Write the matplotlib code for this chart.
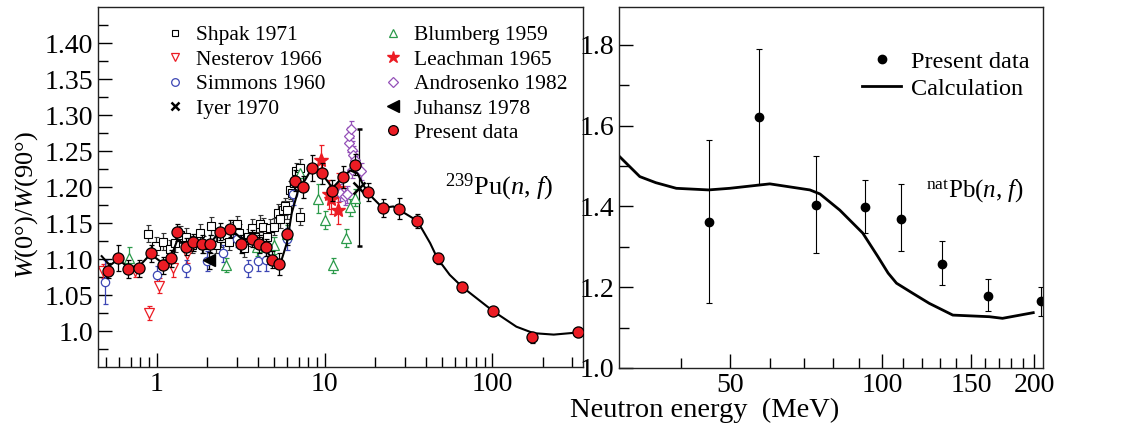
import numpy as np
import matplotlib
matplotlib.use("Agg")
import matplotlib.pyplot as plt
from matplotlib.lines import Line2D
from matplotlib.ticker import FixedLocator, NullFormatter, FixedFormatter

plt.rcParams['font.family'] = ['Liberation Serif', 'DejaVu Serif']
plt.rcParams['mathtext.fontset'] = 'custom'
plt.rcParams['mathtext.rm'] = 'Liberation Serif'
plt.rcParams['mathtext.it'] = 'Liberation Serif:italic'

# ---- left panel: 239Pu(n,f) ----
shpak_E = [0.89, 0.99, 1.09, 1.2, 1.29, 1.38, 1.5, 1.62, 1.8, 1.88, 2.1, 2.26, 2.4, 2.61, 2.7,
           2.85, 3.0, 3.1, 3.31, 3.5, 3.68, 3.85, 4.0, 4.13, 4.32, 4.52, 4.73, 5.0, 5.25, 5.44,
           5.63, 5.82, 6.0, 6.23, 6.38, 6.57, 6.76, 7.1, 7.15]
shpak_W = [1.135, 1.118, 1.124, 1.114, 1.122, 1.134, 1.131, 1.120, 1.136, 1.120, 1.146, 1.120,
           1.129, 1.134, 1.124, 1.140, 1.148, 1.136, 1.115, 1.130, 1.143, 1.131, 1.125, 1.149,
           1.145, 1.131, 1.143, 1.145, 1.164, 1.155, 1.168, 1.173, 1.168, 1.196, 1.192, 1.206,
           1.222, 1.159, 1.227]
shpak_err = 0.012

nest_E = [0.48, 0.74, 0.9, 1.03, 1.25, 1.51]
nest_W = [1.083, 1.083, 1.025, 1.063, 1.087, 1.107]
nest_err = [0.01, 0.008, 0.01, 0.01, 0.012, 0.012]

simm_E = [0.49, 1.0, 1.5, 2.0, 2.5, 3.0, 3.5, 4.0, 4.5, 6.0, 6.5]
simm_W = [1.068, 1.078, 1.087, 1.097, 1.108, 1.128, 1.087, 1.097, 1.098, 1.128, 1.19]
simm_err = [0.03, 0.012, 0.012, 0.014, 0.012, 0.012, 0.012, 0.014, 0.014, 0.015, 0.015]

iyer_E = [16.0]
iyer_W = [1.199]
iyer_err = [0.081]

blum_E = [0.68, 2.6, 3.94, 5.0, 6.0, 7.15, 9.2, 10.1, 11.2, 13.5, 14.2, 15.1]
blum_W = [1.101, 1.092, 1.116, 1.119, 1.135, 1.220, 1.184, 1.154, 1.091, 1.129, 1.172, 1.185]
blum_err = [0.015, 0.01, 0.012, 0.012, 0.012, 0.012, 0.02, 0.012, 0.01, 0.012, 0.012, 0.012]

leach_E = [9.5, 10.6, 11.0, 12.0, 12.0]
leach_W = [1.238, 1.19, 1.183, 1.199, 1.168]
leach_err = [0.02, 0.02, 0.02, 0.02, 0.02]

andr_E = [12.4, 13.2, 13.7, 13.9, 14.0, 14.3, 14.5, 14.5, 14.8, 15.1, 16.6]
andr_W = [1.192, 1.187, 1.19, 1.261, 1.271, 1.28, 1.252, 1.224, 1.245, 1.238, 1.222]
andr_err = 0.012

juh_E = [2.06]
juh_W = [1.098]
juh_err = [0.012]

pres_E = [0.515, 0.59, 0.677, 0.787, 0.92, 1.09, 1.21, 1.33, 1.49, 1.65, 1.85, 2.08, 2.38,
          2.73, 3.17, 3.71, 4.09, 4.46, 4.89, 5.38, 5.96, 6.67, 7.48, 8.45, 9.62, 11.1, 12.9,
          15.1, 18.2, 22.2, 27.8, 35.6, 47.5, 66.3, 100.5, 172, 325]
pres_W = [1.084, 1.102, 1.086, 1.087, 1.108, 1.091, 1.101, 1.137, 1.117, 1.123, 1.121, 1.121,
          1.138, 1.142, 1.121, 1.128, 1.121, 1.116, 1.099, 1.093, 1.135, 1.209, 1.200, 1.227,
          1.219, 1.195, 1.214, 1.231, 1.193, 1.171, 1.170, 1.153, 1.101, 1.061, 1.028, 0.991, 0.998]
pres_err = [0.01, 0.018, 0.012, 0.012, 0.012, 0.012, 0.012, 0.012, 0.012, 0.012, 0.012, 0.012,
            0.012, 0.012, 0.012, 0.012, 0.012, 0.012, 0.012, 0.015, 0.015, 0.015, 0.015, 0.018,
            0.015, 0.015, 0.015, 0.015, 0.012, 0.012, 0.015, 0.01, 0.008, 0.007, 0.006, 0.007, 0.007]

calc_pu_E = [0.47, 0.527, 0.59, 0.677, 0.787, 0.92, 1.046, 1.2, 1.33, 1.51, 1.85, 2.08, 2.38,
             2.73, 3.17, 3.71, 4.32, 4.89, 5.2, 5.55, 5.96, 6.38, 6.98, 7.67, 8.46, 9.4, 10.8,
             11.3, 12.4, 14.2, 15.7, 17.0, 18.6, 22.2, 25.7, 28.9, 35.7, 42.6, 47.0, 55.7, 66.3,
             100.5, 139, 176, 232, 325]
calc_pu_W = [1.104, 1.091, 1.100, 1.088, 1.090, 1.107, 1.097, 1.099, 1.127, 1.119, 1.121, 1.122,
             1.138, 1.143, 1.129, 1.126, 1.117, 1.100, 1.094, 1.099, 1.122, 1.164, 1.196, 1.210,
             1.227, 1.222, 1.203, 1.200, 1.210, 1.223, 1.219, 1.203, 1.189, 1.171, 1.173, 1.166,
             1.153, 1.122, 1.101, 1.078, 1.061, 1.028, 1.006, 0.997, 0.995, 0.998]

# ---- right panel: natPb(n,f) ----
pb_E = [45.4, 57.0, 74.0, 92.5, 109.2, 131.5, 162, 206]
pb_W = [1.361, 1.621, 1.404, 1.398, 1.370, 1.258, 1.179, 1.165]
pb_lo = [1.16, 1.455, 1.285, 1.335, 1.29, 1.205, 1.14, 1.13]
pb_hi = [1.565, 1.79, 1.525, 1.465, 1.455, 1.315, 1.22, 1.20]

calc_pb_E = [30.2, 33.2, 35.7, 39.2, 45.4, 50, 60, 72, 75.4, 82.5, 91.6, 98.1, 102.8, 106.8,
             115, 124, 138, 163, 173, 199]
calc_pb_W = [1.525, 1.474, 1.459, 1.445, 1.441, 1.445, 1.456, 1.441, 1.431, 1.391, 1.334, 1.276,
             1.235, 1.21, 1.185, 1.160, 1.131, 1.127, 1.123, 1.137]

RED = '#ec1c24'
BLUE = '#3c46b4'
GREEN = '#2b9a4a'
PURPLE = '#9450b8'
SERIF = ['Liberation Serif', 'DejaVu Serif']

fig = plt.figure(figsize=(11.37, 4.3), dpi=100)
ax1 = fig.add_axes([0.0859, 0.1465, 0.4271, 0.8372])
ax2 = fig.add_axes([0.5444, 0.1442, 0.3729, 0.8395])

eb = dict(elinewidth=0.9, capsize=1.8, capthick=0.9, linestyle='none')

ax1.errorbar(shpak_E, shpak_W, yerr=shpak_err, fmt='s', ms=5.5, mfc='white', mec='black',
             mew=0.8, ecolor='#333333', **eb)
ax1.errorbar(nest_E, nest_W, yerr=nest_err, fmt='v', ms=7, mfc='white', mec=RED,
             mew=0.9, ecolor=RED, **eb)
ax1.errorbar(simm_E, simm_W, yerr=simm_err, fmt='o', ms=6, mfc='white', mec=BLUE,
             mew=0.9, ecolor=BLUE, **eb)
ax1.errorbar(blum_E, blum_W, yerr=blum_err, fmt='^', ms=7, mfc='white', mec=GREEN,
             mew=0.9, ecolor=GREEN, **eb)
ax1.errorbar(leach_E, leach_W, yerr=leach_err, fmt='*', ms=10, mfc=RED, mec=RED,
             ecolor=RED, **eb)
ax1.errorbar(andr_E, andr_W, yerr=andr_err, fmt='D', ms=5.5, mfc='white', mec=PURPLE,
             mew=0.9, ecolor=PURPLE, **eb)
ax1.errorbar(iyer_E, iyer_W, yerr=iyer_err, fmt='x', ms=8, mec='black', mew=1.8,
             ecolor='black', **eb)
ax1.errorbar(juh_E, juh_W, yerr=juh_err, fmt='<', ms=9, mfc='black', mec='black',
             ecolor='black', **eb)
ax1.plot(calc_pu_E, calc_pu_W, color='black', lw=1.5, zorder=4)
ax1.errorbar(pres_E, pres_W, yerr=pres_err, fmt='o', ms=8, mfc=RED, mec='black', mew=0.9,
             ecolor='black', zorder=5, **eb)

ax1.set_xscale('log')
ax1.set_xlim(0.445, 348)
ax1.set_ylim(0.95, 1.45)
yt = [1.0, 1.05, 1.10, 1.15, 1.20, 1.25, 1.30, 1.35, 1.40]
ax1.yaxis.set_major_locator(FixedLocator(yt))
ax1.yaxis.set_major_formatter(FixedFormatter(['1.0', '1.05', '1.10', '1.15', '1.20', '1.25',
                                              '1.30', '1.35', '1.40']))
ax1.yaxis.set_minor_locator(FixedLocator(np.arange(0.975, 1.45, 0.05)))
ax1.xaxis.set_major_locator(FixedLocator([1, 10, 100]))
ax1.xaxis.set_major_formatter(FixedFormatter(['1', '10', '100']))
mins = [0.5, 0.6, 0.7, 0.8, 0.9] + [k for k in range(2, 10)] + [k * 10 for k in range(2, 10)] + [200, 300]
ax1.xaxis.set_minor_locator(FixedLocator(mins))
ax1.xaxis.set_minor_formatter(NullFormatter())
ax1.set_ylabel(r'$W$(0$\degree$)/$W$(90$\degree$)', fontsize=19)
ax1.yaxis.set_label_coords(-0.118, 0.45)

ax1.text(0.715, 0.5, r'$^{239}$Pu($n$, $f$)', transform=ax1.transAxes, fontsize=19,
         ha='left', va='center')

blank = Line2D([], [], linestyle='none', marker='')
h = [Line2D([], [], ls='none', marker='s', ms=5, mfc='white', mec='black', mew=0.8),
     Line2D([], [], ls='none', marker='v', ms=6, mfc='white', mec=RED, mew=0.9),
     Line2D([], [], ls='none', marker='o', ms=5.5, mfc='white', mec=BLUE, mew=0.9),
     Line2D([], [], ls='none', marker='x', ms=6, mec='black', mew=1.8),
     blank,
     Line2D([], [], ls='none', marker='^', ms=6, mfc='white', mec=GREEN, mew=0.9),
     Line2D([], [], ls='none', marker='*', ms=9, mfc=RED, mec=RED),
     Line2D([], [], ls='none', marker='D', ms=5, mfc='white', mec=PURPLE, mew=0.9),
     Line2D([], [], ls='none', marker='<', ms=8, mfc='black', mec='black'),
     Line2D([], [], ls='none', marker='o', ms=7, mfc=RED, mec='black', mew=0.9)]
labs = ['Shpak 1971', 'Nesterov 1966', 'Simmons 1960', 'Iyer 1970', '',
        'Blumberg 1959', 'Leachman 1965', 'Androsenko 1982', 'Juhansz 1978', 'Present data']
ax1.legend(h, labs, ncol=2, loc='upper left', bbox_to_anchor=(0.11, 0.985), frameon=False,
           fontsize=15.5, handlelength=1.0, handletextpad=0.5, columnspacing=2.6,
           labelspacing=0.2, borderaxespad=0.2)

# right panel
pb_h = Line2D([], [], ls='none', marker='o', ms=6, color='black')
ax2.errorbar(pb_E, pb_W, yerr=[np.subtract(pb_W, pb_lo), np.subtract(pb_hi, pb_W)], fmt='o',
             ms=6, color='black', elinewidth=0.8, capsize=2, capthick=0.8)
calc_line, = ax2.plot(calc_pb_E, calc_pb_W, color='black', lw=2)
ax2.set_xscale('log')
ax2.set_xlim(30.2, 208)
ax2.set_ylim(1.0, 1.894)
ax2.yaxis.set_major_locator(FixedLocator([1.0, 1.2, 1.4, 1.6, 1.8]))
ax2.yaxis.set_major_formatter(FixedFormatter(['1.0', '1.2', '1.4', '1.6', '1.8']))
ax2.yaxis.set_minor_locator(FixedLocator([1.1, 1.3, 1.5, 1.7]))
ax2.xaxis.set_major_locator(FixedLocator([50, 100, 150, 200]))
ax2.xaxis.set_major_formatter(FixedFormatter(['50', '100', '150', '200']))
ax2.xaxis.set_minor_locator(FixedLocator([40, 60, 70, 80, 90, 110, 120, 130, 140,
                                          160, 170, 180, 190]))
ax2.xaxis.set_minor_formatter(NullFormatter())
ax2.text(0.725, 0.49, r'$^{\mathrm{nat}}$Pb($n$, $f$)', transform=ax2.transAxes, fontsize=18,
         ha='left', va='center')
ax2.legend([pb_h, calc_line], ['Present data', 'Calculation'], loc='upper right',
           bbox_to_anchor=(1.02, 0.94), frameon=False, fontsize=17.5,
           handlelength=1.6, handletextpad=0.4, labelspacing=0.22)

for ax in (ax1, ax2):
    ax.tick_params(which='both', direction='in', top=False, right=False, labelsize=20)
    ax.tick_params(which='major', length=10, width=1)
    ax.tick_params(which='minor', length=7, width=1)
    for lab in ax.get_xticklabels() + ax.get_yticklabels():
        lab.set_family(SERIF)
    for s in ax.spines.values():
        s.set_linewidth(1.0)
        s.set_color('#222222')

fig.text(0.62, 0.045, 'Neutron energy  (MeV)', ha='center', va='center', fontsize=20.5)

fig.savefig('out.png', dpi=100)
